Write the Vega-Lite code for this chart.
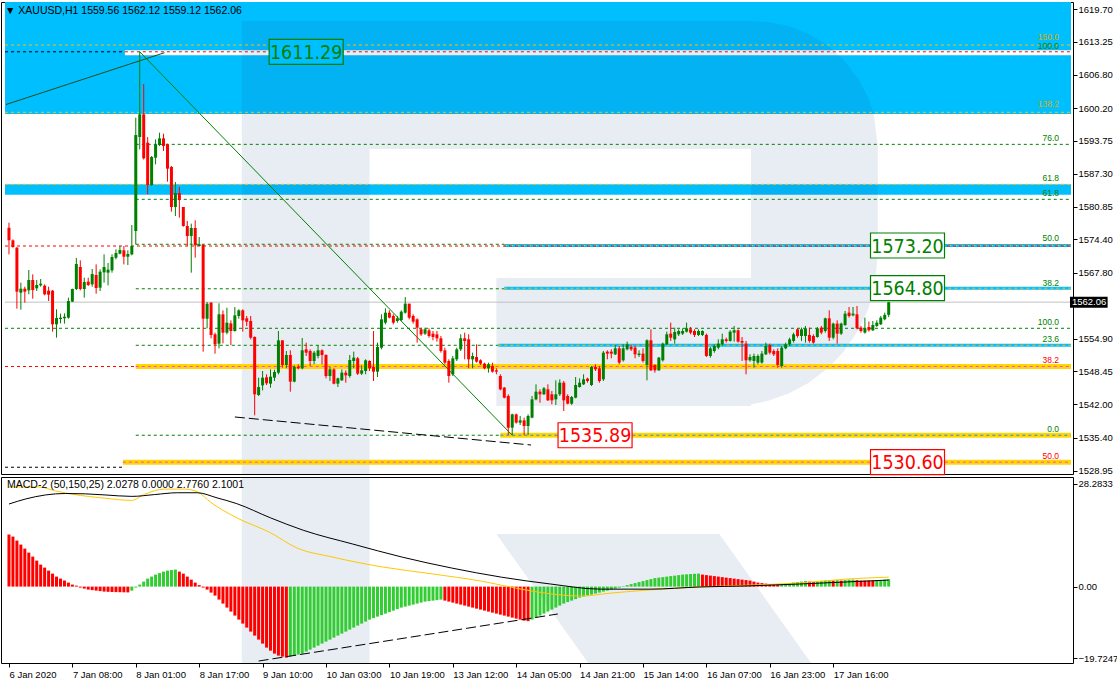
{
"$schema":"https://vega.github.io/schema/vega-lite/v6.json",
"background":"white",
"padding":{"top":1,"left":0,"right":0,"bottom":0},
"bounds":"flush",
"spacing":3,
"config":{"view":{"stroke":"black","strokeWidth":1},"font":"Liberation Sans","axis":{"labelFont":"Liberation Sans","labelFontSize":9.5,"labelColor":"black","tickColor":"black"}},
"datasets":{
"candles":[
{"i":0,"o":1576.70,"h":1577.69,"l":1571.46,"c":1574.21},
{"i":1,"o":1574.21,"h":1574.41,"l":1572.77,"c":1572.90},
{"i":2,"o":1572.77,"h":1572.90,"l":1560.78,"c":1564.12},
{"i":3,"o":1563.92,"h":1565.89,"l":1560.58,"c":1564.71},
{"i":4,"o":1564.71,"h":1565.10,"l":1561.96,"c":1564.12},
{"i":5,"o":1564.38,"h":1568.38,"l":1563.60,"c":1566.42},
{"i":6,"o":1566.42,"h":1567.53,"l":1562.74,"c":1564.45},
{"i":7,"o":1564.78,"h":1566.42,"l":1564.25,"c":1565.43},
{"i":8,"o":1565.37,"h":1566.61,"l":1565.10,"c":1565.69},
{"i":9,"o":1565.30,"h":1565.56,"l":1563.40,"c":1563.60},
{"i":10,"o":1564.32,"h":1565.10,"l":1562.29,"c":1563.53},
{"i":11,"o":1564.32,"h":1564.45,"l":1556.26,"c":1557.70},
{"i":12,"o":1557.70,"h":1560.65,"l":1555.08,"c":1558.94},
{"i":13,"o":1558.75,"h":1559.80,"l":1557.89,"c":1559.01},
{"i":14,"o":1558.88,"h":1559.86,"l":1557.83,"c":1559.21},
{"i":15,"o":1559.01,"h":1562.94,"l":1558.81,"c":1562.29},
{"i":16,"o":1562.16,"h":1564.71,"l":1562.09,"c":1564.65},
{"i":17,"o":1564.65,"h":1570.74,"l":1564.45,"c":1569.56},
{"i":18,"o":1568.97,"h":1570.28,"l":1564.38,"c":1564.65},
{"i":19,"o":1564.65,"h":1566.87,"l":1562.94,"c":1566.02},
{"i":20,"o":1566.09,"h":1566.87,"l":1565.23,"c":1565.43},
{"i":21,"o":1565.56,"h":1568.58,"l":1565.10,"c":1567.59},
{"i":22,"o":1567.40,"h":1569.49,"l":1563.73,"c":1564.84},
{"i":23,"o":1564.91,"h":1568.51,"l":1564.25,"c":1568.05},
{"i":24,"o":1567.92,"h":1571.46,"l":1565.89,"c":1568.97},
{"i":25,"o":1567.86,"h":1569.76,"l":1565.37,"c":1568.45},
{"i":26,"o":1568.31,"h":1571.46,"l":1567.86,"c":1570.93},
{"i":27,"o":1570.80,"h":1572.44,"l":1570.48,"c":1571.72},
{"i":28,"o":1571.59,"h":1573.10,"l":1571.46,"c":1572.31},
{"i":29,"o":1572.25,"h":1573.10,"l":1569.49,"c":1571.00},
{"i":30,"o":1571.00,"h":1572.25,"l":1569.36,"c":1571.53},
{"i":31,"o":1571.46,"h":1577.23,"l":1571.26,"c":1573.10},
{"i":32,"o":1576.05,"h":1598.33,"l":1573.43,"c":1594.92},
{"i":33,"o":1594.53,"h":1611.29,"l":1592.10,"c":1598.99},
{"i":34,"o":1598.99,"h":1604.95,"l":1590.10,"c":1590.34},
{"i":35,"o":1593.42,"h":1594.53,"l":1583.26,"c":1585.09},
{"i":36,"o":1585.09,"h":1590.80,"l":1584.90,"c":1590.60},
{"i":37,"o":1590.47,"h":1594.07,"l":1589.16,"c":1593.09},
{"i":38,"o":1592.96,"h":1595.38,"l":1592.76,"c":1594.27},
{"i":39,"o":1594.27,"h":1595.19,"l":1591.78,"c":1592.76},
{"i":40,"o":1593.09,"h":1593.22,"l":1585.75,"c":1588.30},
{"i":41,"o":1588.63,"h":1588.83,"l":1579.85,"c":1580.77},
{"i":42,"o":1580.77,"h":1585.68,"l":1579.00,"c":1583.52},
{"i":43,"o":1583.52,"h":1584.70,"l":1578.67,"c":1582.14},
{"i":44,"o":1580.77,"h":1580.77,"l":1576.90,"c":1577.03},
{"i":45,"o":1577.03,"h":1578.02,"l":1573.10,"c":1575.06},
{"i":46,"o":1575.06,"h":1577.49,"l":1567.86,"c":1576.64},
{"i":47,"o":1576.64,"h":1578.15,"l":1570.80,"c":1573.23},
{"i":48,"o":1573.10,"h":1574.87,"l":1573.10,"c":1573.43},
{"i":49,"o":1573.30,"h":1573.43,"l":1552.32,"c":1558.81},
{"i":50,"o":1558.81,"h":1562.09,"l":1556.91,"c":1561.76},
{"i":51,"o":1561.96,"h":1562.09,"l":1554.94,"c":1555.60},
{"i":52,"o":1555.73,"h":1556.06,"l":1551.93,"c":1553.76},
{"i":53,"o":1553.90,"h":1561.83,"l":1552.98,"c":1559.67},
{"i":54,"o":1559.67,"h":1560.45,"l":1553.96,"c":1556.06},
{"i":55,"o":1556.06,"h":1560.97,"l":1555.73,"c":1558.02},
{"i":56,"o":1557.89,"h":1558.48,"l":1553.63,"c":1556.39},
{"i":57,"o":1556.39,"h":1561.10,"l":1556.26,"c":1559.47},
{"i":58,"o":1559.34,"h":1560.65,"l":1558.81,"c":1560.45},
{"i":59,"o":1560.45,"h":1560.65,"l":1556.26,"c":1558.48},
{"i":60,"o":1558.88,"h":1559.34,"l":1557.37,"c":1558.22},
{"i":61,"o":1558.35,"h":1559.34,"l":1554.75,"c":1555.08},
{"i":62,"o":1555.21,"h":1555.34,"l":1539.81,"c":1543.93},
{"i":63,"o":1543.80,"h":1547.21,"l":1543.61,"c":1545.37},
{"i":64,"o":1545.70,"h":1548.52,"l":1544.72,"c":1547.21},
{"i":65,"o":1547.28,"h":1547.87,"l":1545.77,"c":1546.10},
{"i":66,"o":1546.03,"h":1548.85,"l":1545.24,"c":1547.41},
{"i":67,"o":1547.21,"h":1548.78,"l":1546.56,"c":1548.33},
{"i":68,"o":1548.19,"h":1556.39,"l":1547.87,"c":1554.55},
{"i":69,"o":1554.55,"h":1554.55,"l":1549.18,"c":1549.70},
{"i":70,"o":1549.70,"h":1552.46,"l":1549.05,"c":1551.67},
{"i":71,"o":1551.67,"h":1552.59,"l":1544.46,"c":1546.43},
{"i":72,"o":1546.43,"h":1549.63,"l":1546.30,"c":1549.37},
{"i":73,"o":1549.37,"h":1549.83,"l":1548.85,"c":1549.05},
{"i":74,"o":1549.05,"h":1555.01,"l":1548.85,"c":1552.59},
{"i":75,"o":1552.78,"h":1554.10,"l":1551.47,"c":1552.13},
{"i":76,"o":1552.46,"h":1552.78,"l":1549.51,"c":1550.49},
{"i":77,"o":1550.49,"h":1552.46,"l":1549.84,"c":1552.13},
{"i":78,"o":1551.47,"h":1553.57,"l":1551.01,"c":1552.59},
{"i":79,"o":1552.59,"h":1552.78,"l":1549.84,"c":1551.67},
{"i":80,"o":1551.67,"h":1551.80,"l":1547.08,"c":1547.54},
{"i":81,"o":1547.54,"h":1549.31,"l":1546.56,"c":1548.85},
{"i":82,"o":1548.85,"h":1549.05,"l":1545.90,"c":1546.03},
{"i":83,"o":1546.03,"h":1547.21,"l":1545.38,"c":1547.08},
{"i":84,"o":1546.69,"h":1548.85,"l":1546.56,"c":1548.20},
{"i":85,"o":1548.20,"h":1548.66,"l":1546.23,"c":1547.67},
{"i":86,"o":1547.54,"h":1551.67,"l":1547.21,"c":1550.69},
{"i":87,"o":1550.49,"h":1552.33,"l":1549.05,"c":1551.15},
{"i":88,"o":1551.01,"h":1551.28,"l":1547.74,"c":1548.00},
{"i":89,"o":1548.00,"h":1549.64,"l":1547.74,"c":1548.66},
{"i":90,"o":1548.52,"h":1550.82,"l":1547.87,"c":1550.62},
{"i":91,"o":1550.49,"h":1550.62,"l":1548.52,"c":1549.05},
{"i":92,"o":1549.31,"h":1556.39,"l":1546.56,"c":1548.39},
{"i":93,"o":1548.39,"h":1554.10,"l":1547.34,"c":1553.24},
{"i":94,"o":1553.11,"h":1559.67,"l":1552.78,"c":1558.68},
{"i":95,"o":1558.03,"h":1560.85,"l":1557.70,"c":1559.99},
{"i":96,"o":1559.99,"h":1560.45,"l":1558.88,"c":1559.01},
{"i":97,"o":1559.34,"h":1559.67,"l":1557.70,"c":1558.03},
{"i":98,"o":1558.35,"h":1559.34,"l":1558.03,"c":1558.88},
{"i":99,"o":1558.55,"h":1560.45,"l":1558.35,"c":1560.19},
{"i":100,"o":1559.99,"h":1563.07,"l":1559.80,"c":1561.76},
{"i":101,"o":1561.76,"h":1561.76,"l":1558.68,"c":1559.01},
{"i":102,"o":1559.34,"h":1559.67,"l":1557.83,"c":1558.22},
{"i":103,"o":1558.68,"h":1558.88,"l":1554.10,"c":1557.04},
{"i":104,"o":1556.72,"h":1557.04,"l":1555.41,"c":1555.73},
{"i":105,"o":1555.86,"h":1557.04,"l":1555.60,"c":1556.72},
{"i":106,"o":1556.52,"h":1556.91,"l":1555.08,"c":1555.41},
{"i":107,"o":1555.86,"h":1556.39,"l":1554.55,"c":1555.21},
{"i":108,"o":1555.73,"h":1556.39,"l":1554.29,"c":1554.95},
{"i":109,"o":1554.95,"h":1555.41,"l":1552.13,"c":1552.46},
{"i":110,"o":1552.59,"h":1553.11,"l":1549.84,"c":1550.16},
{"i":111,"o":1550.49,"h":1550.82,"l":1546.23,"c":1547.54},
{"i":112,"o":1547.87,"h":1551.47,"l":1547.54,"c":1551.01},
{"i":113,"o":1550.82,"h":1553.11,"l":1550.49,"c":1552.78},
{"i":114,"o":1552.78,"h":1555.73,"l":1552.46,"c":1554.95},
{"i":115,"o":1554.95,"h":1556.06,"l":1550.82,"c":1554.42},
{"i":116,"o":1554.75,"h":1555.73,"l":1549.05,"c":1550.82},
{"i":117,"o":1550.82,"h":1552.13,"l":1549.05,"c":1551.47},
{"i":118,"o":1551.28,"h":1553.77,"l":1550.16,"c":1550.36},
{"i":119,"o":1550.62,"h":1550.82,"l":1549.70,"c":1549.97},
{"i":120,"o":1549.97,"h":1550.16,"l":1548.85,"c":1549.05},
{"i":121,"o":1549.05,"h":1550.16,"l":1548.20,"c":1549.84},
{"i":122,"o":1549.51,"h":1550.16,"l":1548.20,"c":1548.39},
{"i":123,"o":1548.66,"h":1549.05,"l":1547.87,"c":1548.39},
{"i":124,"o":1547.54,"h":1547.87,"l":1544.72,"c":1544.92},
{"i":125,"o":1545.25,"h":1545.38,"l":1543.15,"c":1543.28},
{"i":126,"o":1543.61,"h":1543.94,"l":1535.94,"c":1537.38},
{"i":127,"o":1537.38,"h":1540.13,"l":1535.89,"c":1540.00},
{"i":128,"o":1540.00,"h":1540.13,"l":1538.17,"c":1538.37},
{"i":129,"o":1538.37,"h":1539.68,"l":1537.91,"c":1538.82},
{"i":130,"o":1538.82,"h":1539.35,"l":1535.92,"c":1537.71},
{"i":131,"o":1537.71,"h":1540.00,"l":1535.94,"c":1539.68},
{"i":132,"o":1539.35,"h":1543.61,"l":1539.22,"c":1542.95},
{"i":133,"o":1542.95,"h":1545.90,"l":1542.76,"c":1544.46},
{"i":134,"o":1544.46,"h":1544.92,"l":1542.30,"c":1543.94},
{"i":135,"o":1543.94,"h":1545.38,"l":1543.81,"c":1545.12},
{"i":136,"o":1544.92,"h":1545.90,"l":1542.63,"c":1542.76},
{"i":137,"o":1543.94,"h":1544.59,"l":1541.97,"c":1542.76},
{"i":138,"o":1542.95,"h":1546.69,"l":1541.84,"c":1543.94},
{"i":139,"o":1543.94,"h":1546.89,"l":1543.61,"c":1546.23},
{"i":140,"o":1546.23,"h":1546.56,"l":1540.66,"c":1542.76},
{"i":141,"o":1543.61,"h":1543.94,"l":1541.97,"c":1542.10},
{"i":142,"o":1542.10,"h":1543.61,"l":1541.84,"c":1543.41},
{"i":143,"o":1543.28,"h":1547.34,"l":1543.15,"c":1545.77},
{"i":144,"o":1545.38,"h":1547.08,"l":1545.25,"c":1546.23},
{"i":145,"o":1545.90,"h":1547.87,"l":1545.77,"c":1546.89},
{"i":146,"o":1547.02,"h":1547.21,"l":1546.23,"c":1546.56},
{"i":147,"o":1545.77,"h":1549.51,"l":1545.58,"c":1549.31},
{"i":148,"o":1549.31,"h":1549.84,"l":1548.52,"c":1548.85},
{"i":149,"o":1549.05,"h":1549.51,"l":1546.23,"c":1546.56},
{"i":150,"o":1546.89,"h":1552.46,"l":1546.56,"c":1552.13},
{"i":151,"o":1552.33,"h":1552.59,"l":1550.82,"c":1551.94},
{"i":152,"o":1552.33,"h":1552.79,"l":1551.02,"c":1551.94},
{"i":153,"o":1551.80,"h":1553.64,"l":1551.67,"c":1552.98},
{"i":154,"o":1552.98,"h":1553.44,"l":1549.84,"c":1550.17},
{"i":155,"o":1550.63,"h":1553.77,"l":1550.36,"c":1552.98},
{"i":156,"o":1552.79,"h":1554.30,"l":1552.59,"c":1553.77},
{"i":157,"o":1553.25,"h":1553.64,"l":1552.46,"c":1552.79},
{"i":158,"o":1553.12,"h":1553.44,"l":1551.02,"c":1551.80},
{"i":159,"o":1551.67,"h":1552.59,"l":1551.28,"c":1551.94},
{"i":160,"o":1551.94,"h":1552.98,"l":1550.17,"c":1550.50},
{"i":161,"o":1549.71,"h":1554.75,"l":1546.69,"c":1554.56},
{"i":162,"o":1554.56,"h":1556.72,"l":1548.53,"c":1548.66},
{"i":163,"o":1549.71,"h":1549.84,"l":1548.20,"c":1548.66},
{"i":164,"o":1548.66,"h":1551.28,"l":1548.53,"c":1551.15},
{"i":165,"o":1550.63,"h":1554.10,"l":1550.36,"c":1553.90},
{"i":166,"o":1553.77,"h":1556.26,"l":1553.64,"c":1555.74},
{"i":167,"o":1555.87,"h":1558.03,"l":1554.43,"c":1555.08},
{"i":168,"o":1554.75,"h":1557.05,"l":1553.90,"c":1556.20},
{"i":169,"o":1555.74,"h":1556.72,"l":1555.41,"c":1556.39},
{"i":170,"o":1555.87,"h":1556.92,"l":1555.61,"c":1556.39},
{"i":171,"o":1556.26,"h":1558.03,"l":1556.07,"c":1556.92},
{"i":172,"o":1556.72,"h":1557.18,"l":1555.74,"c":1556.07},
{"i":173,"o":1556.39,"h":1556.72,"l":1555.21,"c":1555.61},
{"i":174,"o":1555.61,"h":1556.72,"l":1555.41,"c":1556.39},
{"i":175,"o":1555.61,"h":1556.53,"l":1555.41,"c":1556.39},
{"i":176,"o":1555.61,"h":1555.87,"l":1551.28,"c":1551.48},
{"i":177,"o":1551.48,"h":1553.25,"l":1551.15,"c":1552.98},
{"i":178,"o":1552.46,"h":1553.77,"l":1552.13,"c":1553.44},
{"i":179,"o":1553.12,"h":1554.75,"l":1552.79,"c":1553.90},
{"i":180,"o":1553.77,"h":1555.87,"l":1553.44,"c":1554.75},
{"i":181,"o":1554.75,"h":1555.08,"l":1554.10,"c":1554.43},
{"i":182,"o":1554.43,"h":1556.53,"l":1554.30,"c":1556.26},
{"i":183,"o":1556.07,"h":1557.38,"l":1554.30,"c":1556.53},
{"i":184,"o":1556.53,"h":1556.72,"l":1554.10,"c":1554.30},
{"i":185,"o":1554.43,"h":1555.21,"l":1550.50,"c":1554.10},
{"i":186,"o":1553.90,"h":1554.43,"l":1547.87,"c":1550.63},
{"i":187,"o":1550.63,"h":1551.80,"l":1550.36,"c":1551.28},
{"i":188,"o":1550.50,"h":1551.94,"l":1549.18,"c":1551.48},
{"i":189,"o":1550.17,"h":1551.80,"l":1549.84,"c":1551.48},
{"i":190,"o":1550.17,"h":1552.46,"l":1549.97,"c":1551.94},
{"i":191,"o":1551.80,"h":1554.10,"l":1551.67,"c":1553.44},
{"i":192,"o":1553.64,"h":1553.90,"l":1551.80,"c":1552.13},
{"i":193,"o":1552.46,"h":1552.79,"l":1551.48,"c":1551.80},
{"i":194,"o":1552.46,"h":1552.98,"l":1549.18,"c":1549.71},
{"i":195,"o":1549.51,"h":1553.44,"l":1549.18,"c":1553.12},
{"i":196,"o":1552.98,"h":1554.10,"l":1552.79,"c":1553.77},
{"i":197,"o":1553.77,"h":1555.08,"l":1553.44,"c":1554.75},
{"i":198,"o":1554.43,"h":1556.07,"l":1554.10,"c":1555.74},
{"i":199,"o":1556.72,"h":1556.92,"l":1555.08,"c":1555.41},
{"i":200,"o":1555.41,"h":1557.05,"l":1554.43,"c":1556.72},
{"i":201,"o":1555.41,"h":1557.38,"l":1554.10,"c":1556.92},
{"i":202,"o":1555.61,"h":1557.05,"l":1554.10,"c":1554.43},
{"i":203,"o":1555.41,"h":1555.74,"l":1553.90,"c":1554.10},
{"i":204,"o":1555.21,"h":1557.18,"l":1555.08,"c":1556.92},
{"i":205,"o":1557.05,"h":1557.38,"l":1555.74,"c":1556.07},
{"i":206,"o":1556.39,"h":1559.01,"l":1556.07,"c":1558.88},
{"i":207,"o":1558.88,"h":1560.46,"l":1554.43,"c":1555.08},
{"i":208,"o":1555.08,"h":1558.03,"l":1554.75,"c":1557.84},
{"i":209,"o":1557.84,"h":1558.49,"l":1553.90,"c":1555.87},
{"i":210,"o":1555.87,"h":1558.03,"l":1555.61,"c":1557.84},
{"i":211,"o":1557.57,"h":1560.33,"l":1557.38,"c":1559.80},
{"i":212,"o":1560.00,"h":1561.11,"l":1559.01,"c":1559.34},
{"i":213,"o":1559.47,"h":1561.11,"l":1559.28,"c":1559.80},
{"i":214,"o":1559.67,"h":1561.31,"l":1556.72,"c":1556.92},
{"i":215,"o":1557.05,"h":1557.38,"l":1556.07,"c":1556.39},
{"i":216,"o":1556.07,"h":1559.01,"l":1555.87,"c":1556.92},
{"i":217,"o":1557.18,"h":1558.23,"l":1556.26,"c":1556.53},
{"i":218,"o":1556.53,"h":1558.36,"l":1556.39,"c":1557.57},
{"i":219,"o":1557.38,"h":1558.49,"l":1557.18,"c":1558.03},
{"i":220,"o":1557.70,"h":1559.34,"l":1557.57,"c":1559.01},
{"i":221,"o":1558.69,"h":1559.99,"l":1558.49,"c":1559.56},
{"i":222,"o":1559.56,"h":1562.12,"l":1559.12,"c":1562.06}
],
"hist":[
{"i":0,"h":14.30,"u":0},{"i":1,"h":13.75,"u":0},{"i":2,"h":12.65,"u":0},{"i":3,"h":11.55,"u":0},{"i":4,"h":10.45,"u":0},{"i":5,"h":9.35,"u":0},{"i":6,"h":8.25,"u":0},{"i":7,"h":7.15,"u":0},{"i":8,"h":6.05,"u":0},{"i":9,"h":5.22,"u":0},
{"i":10,"h":4.40,"u":0},{"i":11,"h":3.57,"u":0},{"i":12,"h":2.75,"u":0},{"i":13,"h":2.20,"u":0},{"i":14,"h":1.65,"u":0},{"i":15,"h":1.10,"u":0},{"i":16,"h":0.55,"u":0},{"i":17,"h":0.27,"u":0},{"i":18,"h":-0.27,"u":0},{"i":19,"h":-0.55,"u":0},
{"i":20,"h":-0.82,"u":0},{"i":21,"h":-0.96,"u":0},{"i":22,"h":-1.10,"u":0},{"i":23,"h":-1.24,"u":0},{"i":24,"h":-1.37,"u":0},{"i":25,"h":-1.43,"u":0},{"i":26,"h":-1.48,"u":0},{"i":27,"h":-1.51,"u":0},{"i":28,"h":-1.54,"u":0},{"i":29,"h":-1.57,"u":0},
{"i":30,"h":-1.59,"u":0},{"i":31,"h":-1.10,"u":1},{"i":32,"h":-0.27,"u":1},{"i":33,"h":0.55,"u":1},{"i":34,"h":1.37,"u":1},{"i":35,"h":2.20,"u":1},{"i":36,"h":2.75,"u":1},{"i":37,"h":3.30,"u":1},{"i":38,"h":3.71,"u":1},{"i":39,"h":4.12,"u":1},
{"i":40,"h":4.40,"u":1},{"i":41,"h":4.54,"u":1},{"i":42,"h":4.67,"u":1},{"i":43,"h":4.12,"u":0},{"i":44,"h":3.57,"u":0},{"i":45,"h":2.75,"u":0},{"i":46,"h":1.92,"u":0},{"i":47,"h":1.10,"u":0},{"i":48,"h":0.41,"u":0},{"i":49,"h":-0.27,"u":0},
{"i":50,"h":-0.82,"u":0},{"i":51,"h":-1.65,"u":0},{"i":52,"h":-2.47,"u":0},{"i":53,"h":-3.57,"u":0},{"i":54,"h":-4.67,"u":0},{"i":55,"h":-5.77,"u":0},{"i":56,"h":-6.87,"u":0},{"i":57,"h":-7.97,"u":0},{"i":58,"h":-9.07,"u":0},{"i":59,"h":-10.17,"u":0},
{"i":60,"h":-11.27,"u":0},{"i":61,"h":-12.37,"u":0},{"i":62,"h":-13.47,"u":0},{"i":63,"h":-14.57,"u":0},{"i":64,"h":-15.67,"u":0},{"i":65,"h":-16.77,"u":0},{"i":66,"h":-17.60,"u":0},{"i":67,"h":-18.42,"u":0},{"i":68,"h":-18.97,"u":0},{"i":69,"h":-19.25,"u":0},
{"i":70,"h":-19.52,"u":0},{"i":71,"h":-19.25,"u":1},{"i":72,"h":-18.97,"u":1},{"i":73,"h":-18.70,"u":1},{"i":74,"h":-18.42,"u":1},{"i":75,"h":-17.87,"u":1},{"i":76,"h":-17.32,"u":1},{"i":77,"h":-16.77,"u":1},{"i":78,"h":-16.22,"u":1},{"i":79,"h":-15.67,"u":1},
{"i":80,"h":-15.12,"u":1},{"i":81,"h":-14.57,"u":1},{"i":82,"h":-14.02,"u":1},{"i":83,"h":-13.47,"u":1},{"i":84,"h":-12.92,"u":1},{"i":85,"h":-12.37,"u":1},{"i":86,"h":-11.82,"u":1},{"i":87,"h":-11.27,"u":1},{"i":88,"h":-10.72,"u":1},{"i":89,"h":-10.17,"u":1},
{"i":90,"h":-9.62,"u":1},{"i":91,"h":-9.07,"u":1},{"i":92,"h":-8.66,"u":1},{"i":93,"h":-8.25,"u":1},{"i":94,"h":-7.84,"u":1},{"i":95,"h":-7.42,"u":1},{"i":96,"h":-7.01,"u":1},{"i":97,"h":-6.60,"u":1},{"i":98,"h":-6.19,"u":1},{"i":99,"h":-5.77,"u":1},
{"i":100,"h":-5.50,"u":1},{"i":101,"h":-5.22,"u":1},{"i":102,"h":-4.95,"u":1},{"i":103,"h":-4.67,"u":1},{"i":104,"h":-4.40,"u":1},{"i":105,"h":-4.12,"u":1},{"i":106,"h":-3.99,"u":1},{"i":107,"h":-3.85,"u":1},{"i":108,"h":-3.71,"u":1},{"i":109,"h":-3.57,"u":1},
{"i":110,"h":-3.85,"u":0},{"i":111,"h":-4.12,"u":0},{"i":112,"h":-4.40,"u":0},{"i":113,"h":-4.67,"u":0},{"i":114,"h":-4.95,"u":0},{"i":115,"h":-5.22,"u":0},{"i":116,"h":-5.50,"u":0},{"i":117,"h":-5.77,"u":0},{"i":118,"h":-6.05,"u":0},{"i":119,"h":-6.32,"u":0},
{"i":120,"h":-6.60,"u":0},{"i":121,"h":-6.87,"u":0},{"i":122,"h":-7.15,"u":0},{"i":123,"h":-7.42,"u":0},{"i":124,"h":-7.70,"u":0},{"i":125,"h":-7.97,"u":0},{"i":126,"h":-8.25,"u":0},{"i":127,"h":-8.52,"u":0},{"i":128,"h":-8.80,"u":0},{"i":129,"h":-9.07,"u":0},
{"i":130,"h":-9.35,"u":0},{"i":131,"h":-9.49,"u":0},{"i":132,"h":-9.07,"u":1},{"i":133,"h":-8.52,"u":1},{"i":134,"h":-7.97,"u":1},{"i":135,"h":-7.42,"u":1},{"i":136,"h":-6.87,"u":1},{"i":137,"h":-6.32,"u":1},{"i":138,"h":-5.77,"u":1},{"i":139,"h":-5.22,"u":1},
{"i":140,"h":-4.67,"u":1},{"i":141,"h":-4.26,"u":1},{"i":142,"h":-3.85,"u":1},{"i":143,"h":-3.44,"u":1},{"i":144,"h":-3.02,"u":1},{"i":145,"h":-2.75,"u":1},{"i":146,"h":-2.47,"u":1},{"i":147,"h":-2.20,"u":1},{"i":148,"h":-1.92,"u":1},{"i":149,"h":-1.65,"u":1},
{"i":150,"h":-1.37,"u":1},{"i":151,"h":-1.10,"u":1},{"i":152,"h":-0.82,"u":1},{"i":153,"h":-0.55,"u":1},{"i":154,"h":-0.27,"u":1},{"i":155,"h":0.14,"u":1},{"i":156,"h":0.41,"u":1},{"i":157,"h":0.69,"u":1},{"i":158,"h":0.96,"u":1},{"i":159,"h":1.24,"u":1},
{"i":160,"h":1.51,"u":1},{"i":161,"h":1.79,"u":1},{"i":162,"h":2.06,"u":1},{"i":163,"h":2.34,"u":1},{"i":164,"h":2.47,"u":1},{"i":165,"h":2.61,"u":1},{"i":166,"h":2.75,"u":1},{"i":167,"h":2.89,"u":1},{"i":168,"h":3.02,"u":1},{"i":169,"h":3.16,"u":1},
{"i":170,"h":3.30,"u":1},{"i":171,"h":3.38,"u":1},{"i":172,"h":3.46,"u":1},{"i":173,"h":3.52,"u":1},{"i":174,"h":3.57,"u":1},{"i":175,"h":3.30,"u":0},{"i":176,"h":3.16,"u":0},{"i":177,"h":3.02,"u":0},{"i":178,"h":2.89,"u":0},{"i":179,"h":2.75,"u":0},
{"i":180,"h":2.61,"u":0},{"i":181,"h":2.47,"u":0},{"i":182,"h":2.34,"u":0},{"i":183,"h":2.20,"u":0},{"i":184,"h":2.06,"u":0},{"i":185,"h":1.92,"u":0},{"i":186,"h":1.79,"u":0},{"i":187,"h":1.65,"u":0},{"i":188,"h":1.37,"u":0},{"i":189,"h":1.10,"u":0},
{"i":190,"h":0.96,"u":0},{"i":191,"h":0.82,"u":0},{"i":192,"h":0.69,"u":0},{"i":193,"h":0.55,"u":0},{"i":194,"h":0.55,"u":0},{"i":195,"h":0.69,"u":1},{"i":196,"h":0.82,"u":1},{"i":197,"h":0.96,"u":1},{"i":198,"h":1.10,"u":1},{"i":199,"h":1.24,"u":1},
{"i":200,"h":1.37,"u":1},{"i":201,"h":1.51,"u":1},{"i":202,"h":1.37,"u":0},{"i":203,"h":1.24,"u":0},{"i":204,"h":1.37,"u":1},{"i":205,"h":1.51,"u":1},{"i":206,"h":1.65,"u":1},{"i":207,"h":1.79,"u":1},{"i":208,"h":1.65,"u":0},{"i":209,"h":1.79,"u":1},
{"i":210,"h":1.65,"u":0},{"i":211,"h":1.79,"u":1},{"i":212,"h":1.92,"u":1},{"i":213,"h":1.92,"u":1},{"i":214,"h":1.79,"u":0},{"i":215,"h":1.65,"u":0},{"i":216,"h":1.65,"u":0},{"i":217,"h":1.65,"u":0},{"i":218,"h":1.65,"u":0},{"i":219,"h":1.79,"u":1},
{"i":220,"h":1.79,"u":1},{"i":221,"h":1.92,"u":1},{"i":222,"h":2.03,"u":1}
],
"macd":[
{"i":0,"v":22.7},{"i":4.25,"v":24.1},{"i":9.25,"v":25.2},{"i":14.25,"v":25.6},{"i":19.25,"v":25.5},{"i":24.25,"v":25.2},{"i":31,"v":24.8},{"i":36.75,"v":25.3},{"i":42.5,"v":25.8},{"i":47.5,"v":25.8},{"i":52.5,"v":24.4},{"i":57.5,"v":22.8},{"i":66,"v":18.9},{"i":74.25,"v":15.5},{"i":86.75,"v":11.7},{"i":99.25,"v":8.1},{"i":111.75,"v":5.1},{"i":124.25,"v":2.6},{"i":136.75,"v":0.7},{"i":149.25,"v":-0.7},{"i":161.75,"v":-0.7},{"i":174.25,"v":-0.1},{"i":186.75,"v":0.2},{"i":199.25,"v":0.7},{"i":211.75,"v":1.3},{"i":222,"v":1.8}
],
"signal":[
{"i":0,"v":27.4},{"i":7.5,"v":27.4},{"i":11.75,"v":26.3},{"i":16,"v":25.4},{"i":24.25,"v":24.3},{"i":31,"v":23.7},{"i":34.25,"v":25.4},{"i":39.25,"v":26.8},{"i":44.25,"v":26.8},{"i":47.5,"v":26.1},{"i":51,"v":23.1},{"i":57.5,"v":18.9},{"i":66,"v":14.8},{"i":72.5,"v":10.7},{"i":81.75,"v":8.1},{"i":94.25,"v":5.4},{"i":106.75,"v":3.5},{"i":119.25,"v":1.5},{"i":129.25,"v":-0.7},{"i":136.75,"v":-2.0},{"i":144.25,"v":-2.6},{"i":151.75,"v":-1.8},{"i":161.75,"v":-0.9},{"i":174.25,"v":-0.1},{"i":186.75,"v":0.4},{"i":199.25,"v":1.0},{"i":211.75,"v":2.1},{"i":222,"v":2.6}
]
},
"resolve":{"scale":{"color":"independent"}},
"vconcat":[
{
"width":1072,"height":472,
"title":{"text":"▼  XAUUSD,H1  1559.56 1562.12 1559.12 1562.06","anchor":"start","frame":"group","offset":-14,"dx":4,"fontSize":10.5,"fontWeight":"normal","font":"Liberation Sans","color":"black"},
"encoding":{
 "x":{"type":"quantitative","scale":{"domain":[-0.75,267.25],"nice":false,"zero":false},"axis":null},
 "y":{"type":"quantitative","scale":{"domain":[1528.27,1621.08],"nice":false,"zero":false},
   "axis":{"orient":"right","title":null,"grid":false,"domain":false,"labelOverlap":false,"values":[1528.95,1535.40,1542.00,1548.45,1554.90,1567.80,1574.40,1580.85,1587.30,1593.75,1600.20,1606.80,1613.25,1619.70],"format":".2f","tickSize":4,"labelPadding":1}}
},
"layer":[
{"data":{"values":[{"lo":1599.06,"hi":1625,"i0":-1,"i1":268},{"lo":1583.2,"hi":1585.23,"i0":-1,"i1":268}]},
 "mark":{"type":"rect","color":"#00BFFF","clip":true},
 "encoding":{"x":{"field":"i0"},"x2":{"field":"i1"},"y":{"field":"lo"},"y2":{"field":"hi"}}},
{"data":{"values":[{"lo":1610.6,"hi":1611.58,"i0":29.25,"i1":268}]},
 "mark":{"type":"rect","color":"white","clip":true},
 "encoding":{"x":{"field":"i0"},"x2":{"field":"i1"},"y":{"field":"lo"},"y2":{"field":"hi"}}},
{"data":{"values":[
 {"g":"A","x":58.75,"t":1617.34,"b":1520},{"g":"A","x":91,"t":1617.34,"b":1520},
 {"g":"B","x":91,"t":1617.34,"b":1592.17},{"g":"B","x":187.25,"t":1617.34,"b":1592.17},
 {"g":"D","x":123,"t":1566.81,"b":1541.64},{"g":"D","x":187.25,"t":1566.81,"b":1541.64},
 {"g":"C","x":187.25,"t":1617.34,"b":1541.96},{"g":"C","x":191.75,"t":1617.16,"b":1542.70},{"g":"C","x":196.75,"t":1616.36,"b":1544.10},{"g":"C","x":201.75,"t":1614.82,"b":1546.18},{"g":"C","x":206.75,"t":1612.43,"b":1549.15},{"g":"C","x":210.5,"t":1609.81,"b":1552.20},{"g":"C","x":214.25,"t":1606.09,"b":1556.43},{"g":"C","x":216.75,"t":1602.40,"b":1560.54},{"g":"C","x":218.25,"t":1598.94,"b":1564.37},{"g":"C","x":219.25,"t":1592.76,"b":1571.14}]},
 "mark":{"type":"area","color":"#1d4589","opacity":0.1,"clip":true,"orient":"vertical"},
 "encoding":{"x":{"field":"x"},"y":{"field":"t"},"y2":{"field":"b"},"detail":{"field":"g"}}},
{"data":{"values":[{"p":1549.41,"i0":32,"i1":268},{"p":1535.89,"i0":124,"i1":268},{"p":1530.60,"i0":28.75,"i1":268}]},
 "mark":{"type":"rule","color":"#FFD700","strokeWidth":5,"clip":true},
 "encoding":{"x":{"field":"i0"},"x2":{"field":"i1"},"y":{"field":"p"}}},
{"data":{"values":[{"p":1573.20,"i0":125,"i1":268},{"p":1564.80,"i0":125,"i1":268},{"p":1553.58,"i0":123.5,"i1":268}]},
 "mark":{"type":"rule","color":"#00BFFF","strokeWidth":3,"clip":true},
 "encoding":{"x":{"field":"i0"},"x2":{"field":"i1"},"y":{"field":"p"}}},
{"data":{"values":[{"p":1593.09,"i0":32,"i1":268},{"p":1582.28,"i0":32,"i1":268},{"p":1573.44,"i0":32,"i1":125},{"p":1564.69,"i0":32,"i1":125},{"p":1556.92,"i0":-1,"i1":268},{"p":1553.58,"i0":32,"i1":123.5},{"p":1535.89,"i0":32,"i1":124}]},
 "mark":{"type":"rule","color":"#008000","strokeWidth":1,"strokeDash":[3,3],"clip":true},
 "encoding":{"x":{"field":"i0"},"x2":{"field":"i1"},"y":{"field":"p"}}},
{"data":{"values":[{"p":1612.62,"i0":-1,"i1":268},{"p":1599.39,"i0":-1,"i1":268},{"p":1585.23,"i0":-1,"i1":268},{"p":1573.20,"i0":125,"i1":268},{"p":1564.80,"i0":125,"i1":268},{"p":1553.58,"i0":123.5,"i1":268}]},
 "mark":{"type":"rule","color":"#FFB90F","strokeWidth":1,"strokeDash":[3,3],"clip":true},
 "encoding":{"x":{"field":"i0"},"x2":{"field":"i1"},"y":{"field":"p"}}},
{"data":{"values":[{"p":1611.29,"i0":29.25,"i1":268},{"p":1573.10,"i0":-1,"i1":268},{"p":1549.41,"i0":-1,"i1":32}]},
 "mark":{"type":"rule","color":"#FF0000","strokeWidth":1,"strokeDash":[3,3],"clip":true},
 "encoding":{"x":{"field":"i0"},"x2":{"field":"i1"},"y":{"field":"p"}}},
{"data":{"values":[{"p":1611.29,"i0":-1,"i1":29.25},{"p":1529.6,"i0":-1,"i1":28.75}]},
 "mark":{"type":"rule","color":"#000000","strokeWidth":1,"strokeDash":[3,3],"clip":true},
 "encoding":{"x":{"field":"i0"},"x2":{"field":"i1"},"y":{"field":"p"}}},
{"data":{"values":[{"p":1549.41,"i0":32,"i1":268},{"p":1530.60,"i0":28.75,"i1":268}]},
 "mark":{"type":"rule","color":"#FF40FF","strokeWidth":1,"strokeDash":[3,3],"clip":true},
 "encoding":{"x":{"field":"i0"},"x2":{"field":"i1"},"y":{"field":"p"}}},
{"data":{"values":[{"p":1535.89,"i0":124,"i1":268}]},
 "mark":{"type":"rule","color":"#1E90FF","strokeWidth":1,"strokeDash":[3,3],"clip":true},
 "encoding":{"x":{"field":"i0"},"x2":{"field":"i1"},"y":{"field":"p"}}},
{"data":{"values":[{"p":1562.06,"i0":-1,"i1":268}]},
 "mark":{"type":"rule","color":"#C0C0C0","strokeWidth":1,"clip":true},
 "encoding":{"x":{"field":"i0"},"x2":{"field":"i1"},"y":{"field":"p"}}},
{"data":{"values":[{"i":-0.75,"p":1600.92},{"i":39.25,"p":1611.11}]},
 "mark":{"type":"line","color":"#1E4D1E","strokeWidth":1,"clip":true},
 "encoding":{"x":{"field":"i"},"y":{"field":"p"}}},
{"data":{"values":[{"i":33,"p":1611.29},{"i":127,"p":1535.89}]},
 "mark":{"type":"line","color":"#008000","strokeWidth":1,"clip":true},
 "encoding":{"x":{"field":"i"},"y":{"field":"p"}}},
{"data":{"values":[{"i":57,"p":1539.48},{"i":131.75,"p":1533.97}]},
 "mark":{"type":"line","color":"#000000","strokeWidth":1,"strokeDash":[10,4],"clip":true},
 "encoding":{"x":{"field":"i"},"y":{"field":"p"}}},
{"data":{"name":"candles"},
 "mark":{"type":"rule","strokeWidth":1},
 "encoding":{"x":{"field":"i"},"y":{"field":"l"},"y2":{"field":"h"},
  "color":{"condition":{"test":"datum.c >= datum.o","value":"#008000"},"value":"#FF0000"}}},
{"data":{"name":"candles"},
 "mark":{"type":"bar","size":3,"orient":"vertical"},
 "encoding":{"x":{"field":"i"},"y":{"field":"o"},"y2":{"field":"c"},
  "color":{"condition":{"test":"datum.c >= datum.o","value":"#008000"},"value":"#FF0000"}}},
{"data":{"values":[{"p":1611.29,"i":75,"t":"1611.29"},{"p":1573.20,"i":226.75,"t":"1573.20"},{"p":1564.80,"i":226.75,"t":"1564.80"},{"p":1535.89,"i":147.9,"t":"1535.89"},{"p":1530.60,"i":226.75,"t":"1530.60"}]},
 "mark":{"type":"rect","xOffset":-37,"x2Offset":37,"yOffset":-12.5,"y2Offset":12.5,"strokeWidth":1.2},
 "encoding":{"x":{"field":"i"},"x2":{"field":"i"},"y":{"field":"p"},"y2":{"field":"p"},
  "fill":{"condition":{"test":"datum.p > 1600","value":"#00BFFF"},"value":"white"},
  "stroke":{"condition":{"test":"datum.p > 1562.06","value":"#008000"},"value":"#FF0000"}}},
{"data":{"values":[{"p":1611.29,"i":75,"t":"1611.29"},{"p":1573.20,"i":226.75,"t":"1573.20"},{"p":1564.80,"i":226.75,"t":"1564.80"},{"p":1535.89,"i":147.9,"t":"1535.89"},{"p":1530.60,"i":226.75,"t":"1530.60"}]},
 "mark":{"type":"text","font":"DejaVu Sans Condensed, Liberation Sans","fontSize":19.5,"align":"center","baseline":"middle","dy":1},
 "encoding":{"x":{"field":"i"},"y":{"field":"p"},"text":{"field":"t"},
  "color":{"condition":{"test":"datum.p > 1562.06","value":"#008000"},"value":"#FF0000"}}},
{"data":{"values":[{"p":1611.29,"t":"100.0"},{"p":1593.09,"t":"76.0"},{"p":1585.23,"t":"61.8"},{"p":1582.28,"t":"61.8"},{"p":1573.44,"t":"50.0"},{"p":1564.69,"t":"38.2"},{"p":1556.92,"t":"100.0"},{"p":1553.58,"t":"23.6"},{"p":1535.89,"t":"0.0"}]},
 "mark":{"type":"text","fontSize":8.5,"align":"right","baseline":"bottom","dy":-1,"color":"#008000","font":"Liberation Sans"},
 "encoding":{"x":{"datum":265},"y":{"field":"p"},"text":{"field":"t"}}},
{"data":{"values":[{"p":1612.62,"t":"150.0"},{"p":1599.39,"t":"138.2"}]},
 "mark":{"type":"text","fontSize":8.5,"align":"right","baseline":"bottom","dy":-3,"color":"#D4B000","font":"Liberation Sans"},
 "encoding":{"x":{"datum":265},"y":{"field":"p"},"text":{"field":"t"}}},
{"data":{"values":[{"p":1549.41,"t":"38.2"},{"p":1530.60,"t":"50.0"}]},
 "mark":{"type":"text","fontSize":8.5,"align":"right","baseline":"bottom","dy":-1,"color":"#FF0000","font":"Liberation Sans"},
 "encoding":{"x":{"datum":265},"y":{"field":"p"},"text":{"field":"t"}}},
{"data":{"values":[{"p":1562.06}]},
 "mark":{"type":"rect","color":"black","yOffset":-5.5,"y2Offset":5.5},
 "encoding":{"x":{"datum":267.75},"x2":{"datum":277.25},"y":{"field":"p"},"y2":{"field":"p"}}},
{"data":{"values":[{"p":1562.06,"t":"1562.06"}]},
 "mark":{"type":"text","color":"white","align":"left","baseline":"middle","fontSize":9.5,"dx":2},
 "encoding":{"x":{"datum":267.75},"y":{"field":"p"},"text":{"field":"t"}}}
]
},
{
"width":1072,"height":186,
"title":{"text":"MACD-2 (50,150,25) 2.0278 0.0000 2.7760 2.1001","anchor":"start","frame":"group","offset":-13,"dx":6,"fontSize":10.5,"fontWeight":"normal","font":"Liberation Sans","color":"black"},
"encoding":{
 "x":{"type":"quantitative","scale":{"domain":[-0.75,267.25],"nice":false,"zero":false},
   "axis":{"orient":"bottom","title":null,"grid":false,"domain":false,"labelOverlap":false,"values":[0,16,32,48,64,80,96,112,128,144,160,176,192,208],"labelExpr":"datum.value < 8 ? '6 Jan 2020' : datum.value < 24 ? '7 Jan 08:00' : datum.value < 40 ? '8 Jan 01:00' : datum.value < 56 ? '8 Jan 17:00' : datum.value < 72 ? '9 Jan 10:00' : datum.value < 88 ? '10 Jan 03:00' : datum.value < 104 ? '10 Jan 19:00' : datum.value < 120 ? '13 Jan 12:00' : datum.value < 136 ? '14 Jan 05:00' : datum.value < 152 ? '14 Jan 21:00' : datum.value < 168 ? '15 Jan 14:00' : datum.value < 184 ? '16 Jan 07:00' : datum.value < 200 ? '16 Jan 23:00' : '17 Jan 16:00'","labelAlign":"left","labelPadding":2,"tickSize":4}},
 "y":{"type":"quantitative","scale":{"domain":[-21.0,30.13],"nice":false,"zero":false},
   "axis":{"orient":"right","title":null,"grid":false,"domain":false,"labelOverlap":false,"values":[28.2833,0,-19.7247],"labelExpr":"datum.value == 0 ? '0.00' : format(datum.value, '.4f')","tickSize":4,"labelPadding":1}}
},
"layer":[
{"data":{"values":[{"g":"A","x":58.75,"t":40,"b":-40},{"g":"A","x":91,"t":40,"b":-40},{"g":"L","x":123,"t":14.46,"b":14.46},{"g":"L","x":146.5,"t":14.46,"b":-21.5},{"g":"L","x":179.25,"t":14.46,"b":-21.5},{"g":"L","x":202.75,"t":-21.5,"b":-21.5}]},
 "mark":{"type":"area","color":"#1d4589","opacity":0.1,"clip":true,"orient":"vertical"},
 "encoding":{"x":{"field":"x"},"y":{"field":"t"},"y2":{"field":"b"},"detail":{"field":"g"}}},
{"data":{"name":"hist"},
 "mark":{"type":"bar","size":3,"orient":"vertical"},
 "encoding":{"x":{"field":"i"},"y":{"field":"h"},"y2":{"datum":0},
  "color":{"condition":{"test":"datum.u == 1","value":"#32CD32"},"value":"#FF0000"}}},
{"data":{"values":[{"i":63,"v":-20.46},{"i":138.5,"v":-7.53}]},
 "mark":{"type":"line","color":"#000000","strokeWidth":1,"strokeDash":[10,4],"clip":true},
 "encoding":{"x":{"field":"i"},"y":{"field":"v"}}},
{"data":{"name":"signal"},
 "mark":{"type":"line","color":"#FFC800","strokeWidth":1,"interpolate":"monotone"},
 "encoding":{"x":{"field":"i"},"y":{"field":"v"}}},
{"data":{"name":"macd"},
 "mark":{"type":"line","color":"#000000","strokeWidth":1,"interpolate":"monotone"},
 "encoding":{"x":{"field":"i"},"y":{"field":"v"}}}
]
}
]
}
